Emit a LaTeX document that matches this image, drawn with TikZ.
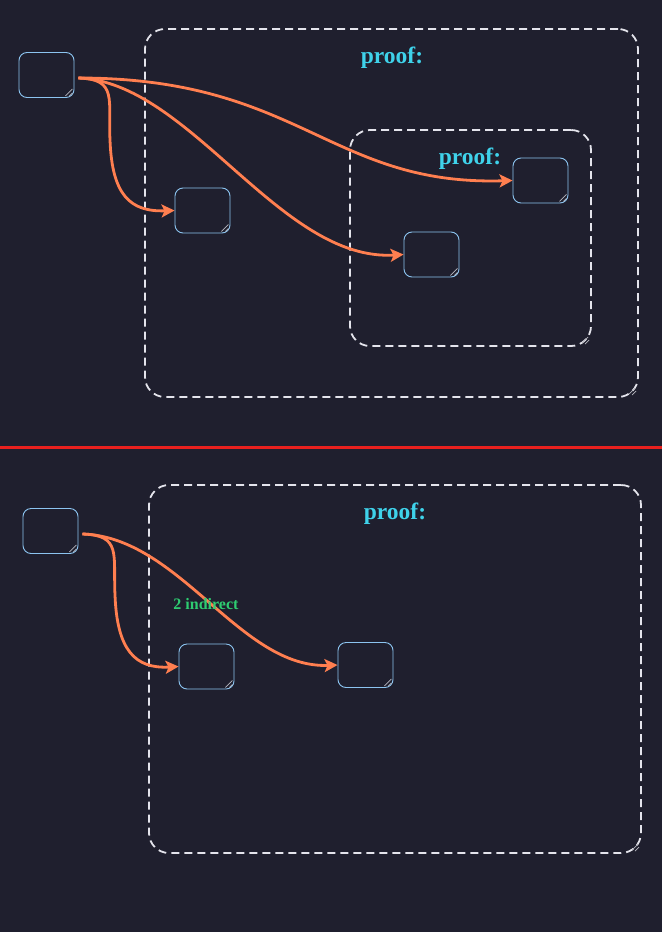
\documentclass[tikz,border=0pt]{standalone}
\usepackage{fontspec}
\setmainfont{Liberation Serif}
\usetikzlibrary{arrows.meta}
\definecolor{bg}{HTML}{1F1F2E}
\definecolor{boxc}{HTML}{8CC4F0}
\definecolor{edgec}{HTML}{FF7F50}
\definecolor{titlec}{HTML}{3FD2EA}
\definecolor{greenc}{HTML}{2ECC71}
\definecolor{dashc}{HTML}{E4E4EC}
\definecolor{redc}{HTML}{E8201E}
\definecolor{handlec}{HTML}{B8B8C0}
\tikzset{
  statebox/.style={draw=boxc, line width=0.9pt, rounded corners=8pt, minimum width=55pt, minimum height=45pt, inner sep=0pt},
  container/.style={draw=dashc, line width=1.8pt, dash pattern=on 8pt off 5pt, rounded corners=20pt, inner sep=0pt},
  edge/.style={draw=edgec, line width=2.8pt, -{Stealth[length=13pt,width=13pt,inset=3pt]}},
  title/.style={text=titlec, font=\fontsize{23.5}{26}\selectfont\bfseries, inner sep=0pt},
  elabel/.style={text=greenc, font=\fontsize{16}{18}\selectfont\bfseries, inner sep=0pt},
  handle/.style={draw=handlec, line width=0.7pt}
}
\newcommand{\grip}[1]{%
  \draw[handle] ([shift={(-9pt,2pt)}]#1.south east) -- ([shift={(-2pt,9pt)}]#1.south east);
  \draw[handle] ([shift={(-5pt,2pt)}]#1.south east) -- ([shift={(-2pt,5pt)}]#1.south east);}
\begin{document}
\begin{tikzpicture}[x=1pt,y=-1pt]
\fill[bg] (0,0) rectangle (662,932);
\useasboundingbox (0,0) rectangle (662,932);
% ---- top part ----
\node[container, minimum width=493pt, minimum height=368pt] (outer1) at (391.5,213) {};
\node[container, minimum width=241pt, minimum height=216pt] (inner1) at (470.5,238) {};
\node[title] (t1) at (392,58) {proof:};
\node[title] (t2) at (470,159) {proof:};
\node[statebox] (A) at (46.5,75) {};
\node[statebox] (B) at (202.5,210.5) {};
\node[statebox] (C) at (540.5,180.5) {};
\node[statebox] (D) at (431.5,254.5) {};
\grip{A}\grip{B}\grip{C}\grip{D}
\coordinate (Aout) at ([shift={(4pt,-3pt)}]A.east);
\draw[edge] (Aout) .. controls (118,79) and (108,100) .. (110,140) .. controls (112,195) and (130,212) .. (B.west);
\draw[edge] (Aout) .. controls (300,78) and (330,186) .. (C.west);
\draw[edge] (Aout) .. controls (190,82) and (280,262) .. (D.west);
% grips of containers
\draw[handle] (629,394) -- (635,388); \draw[handle] (632,395) -- (636,391);
\draw[handle] (582,343) -- (588,337); \draw[handle] (585,344) -- (589,340);
% ---- separator ----
\draw[redc, line width=3pt] (0,447) -- (662,447);
% ---- bottom part ----
\node[container, minimum width=492pt, minimum height=368pt] (outer2) at (395,669) {};
\node[title] (t3) at (395,514) {proof:};
\node[statebox] (E) at (50.5,531) {};
\node[statebox] (F) at (206.5,666.5) {};
\node[statebox] (G) at (365.5,665) {};
\grip{E}\grip{F}\grip{G}
\coordinate (Eout) at ([shift={(4pt,-3pt)}]E.east);
\draw[edge] (Eout) .. controls (122,535) and (113,555) .. (115,595) .. controls (117,650) and (135,669) .. (F.west);
\draw[edge] (Eout) .. controls (180,537) and (240,669) .. (G.west);
\node[elabel] (L) at (206,604) {2 indirect};
\draw[handle] (632,850) -- (638,844); \draw[handle] (635,851) -- (639,847);
\end{tikzpicture}
\end{document}
